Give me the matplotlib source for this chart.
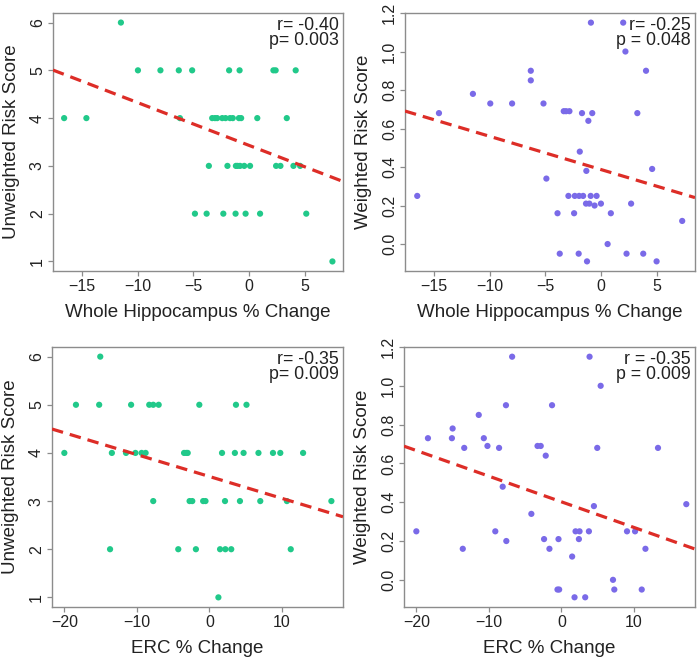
import matplotlib
matplotlib.use("Agg")
import matplotlib.pyplot as plt
import numpy as np

plt.rcParams['font.family'] = ['Liberation Sans', 'DejaVu Sans']

# ---------------- data ----------------
# Panel A: Whole hippocampus % change vs unweighted risk score
hipp_unw_x = [-11.5,
              -9.97, -7.95, -6.3, -5.1, -1.78, -0.84, 2.2, 2.4, 4.2,
              -16.6, -14.6, -6.2, -3.3, -3.05, -2.85, -2.4, -2.1, -1.7, -1.45, -0.9, -0.7, 0.75, 3.4,
              -3.6, -1.93, -1.17, -1.02, -0.8, -0.42, 0.1, 2.44, 2.83, 4.0, 4.6,
              -4.85, -3.8, -2.3, -1.2, -0.3, 1.0, 5.15,
              7.5]
hipp_unw_y = [6] + [5] * 9 + [4] * 14 + [3] * 11 + [2] * 7 + [1]

# Panel B: Whole hippocampus % change vs weighted risk score
hipp_w_x = [-0.9, 2.0, 2.2, -6.3, -6.3, 4.05, -11.5, -9.94, -7.98, -5.16,
            -14.55, -3.34, -3.13, -2.83, -1.7, -0.78, 3.27, -1.13, -1.9, -1.31,
            4.6, -4.9, -16.5, -2.92, -2.35, -1.96, -1.6, -0.92, -0.39,
            -1.34, -1.04, -0.57, 0.0, 2.71, -3.9, -2.41, 0.89, 7.3, 0.6,
            -3.7, -2.0, 2.3, 3.8, -1.25, 5.0]
hipp_w_y = [1.15, 1.15, 1.0, 0.9, 0.85, 0.9, 0.78, 0.73, 0.73, 0.73,
            0.68, 0.69, 0.69, 0.69, 0.68, 0.68, 0.68, 0.64, 0.48, 0.38,
            0.39, 0.34, 0.25, 0.25, 0.25, 0.25, 0.25, 0.25, 0.25,
            0.21, 0.21, 0.2, 0.21, 0.21, 0.16, 0.16, 0.16, 0.12, 0.0,
            -0.05, -0.05, -0.05, -0.05, -0.09, -0.09]

# Panel C: ERC % change vs unweighted risk score
erc_unw_x = [-15.05,
             -18.4, -15.2, -10.8, -8.3, -7.75, -7.0, -1.4, 3.65, 5.1,
             -20.0, -13.45, -11.5, -10.2, -9.35, -8.8, -3.5, -3.2, -3.0, 1.73, 3.5, 4.7, 6.75, 8.75, 9.76, 12.9,
             -7.75, -2.74, -2.37, -0.87, -0.55, 2.14, 4.2, 7.0, 10.67, 16.8,
             -13.7, -4.3, -1.87, 1.46, 2.19, 3.0, 11.2,
             1.23]
erc_unw_y = [6] + [5] * 9 + [4] * 16 + [3] * 10 + [2] * 7 + [1]

# Panel D: ERC % change vs weighted risk score
erc_w_x = [-6.8, 3.87, 5.4, -7.65, -1.3, -11.4, -15.0, -18.4, -15.1, -10.7,
           -13.4, -10.2, -8.6, -3.3, -2.86, -2.17, 4.93, 13.3, -8.1, 4.47,
           -4.15, 17.2, -20.0, -9.12, 1.94, 2.49, 3.78, 9.03, 10.14, -7.6,
           -2.4, -0.41, 2.4, -13.6, -1.66, 11.57, 1.47, 7.1, -0.55, -0.32,
           7.28, 11.06, 1.8, 3.27]
erc_w_y = [1.15, 1.15, 1.0, 0.9, 0.9, 0.85, 0.78, 0.73, 0.73, 0.73,
           0.68, 0.69, 0.68, 0.69, 0.69, 0.64, 0.68, 0.68, 0.48, 0.38,
           0.34, 0.39, 0.25, 0.25, 0.25, 0.25, 0.25, 0.25, 0.25, 0.2,
           0.21, 0.21, 0.21, 0.16, 0.16, 0.16, 0.12, 0.0, -0.05, -0.05,
           -0.05, -0.05, -0.09, -0.09]

# regression fits (slope, intercept)
fit_slopes = [-0.0895, -0.01726, -0.04545, -0.01322]
fit_intercepts = [3.43, 0.387, 3.51, 0.402]

stats_text = ["r= -0.40\np= 0.003", "r= -0.25\np = 0.048",
              "r= -0.35\np= 0.009", "r = -0.35\np = 0.009"]
x_labels = ["Whole Hippocampus % Change", "Whole Hippocampus % Change",
            "ERC % Change", "ERC % Change"]
y_labels = ["Unweighted Risk Score", "Weighted Risk Score",
            "Unweighted Risk Score", "Weighted Risk Score"]
hipp_ticks = [-15, -10, -5, 0, 5]
erc_ticks = [-20, -10, 0, 10]
unw_ticks = [1, 2, 3, 4, 5, 6]
w_ticks = [0.0, 0.2, 0.4, 0.6, 0.8, 1.0, 1.2]

# ---------------- drawing ----------------
GREEN = "#21c98a"
PURPLE = "#7a6ae8"
RED = "#dd2d27"
SPINE = "#8c8c8c"
TEXT = "#222222"

fig = plt.figure(figsize=(7.0, 6.57), dpi=100)
W, H = 700, 657
boxes = [(53, 13, 343, 271), (405, 13, 695, 271),
         (52, 347, 343, 607), (404, 347, 695, 607)]
axes = []
for (x0, y0, x1, y1) in boxes:
    axes.append(fig.add_axes([x0 / W, 1 - y1 / H, (x1 - x0) / W, (y1 - y0) / H]))

datasets = [(hipp_unw_x, hipp_unw_y, GREEN), (hipp_w_x, hipp_w_y, PURPLE),
            (erc_unw_x, erc_unw_y, GREEN), (erc_w_x, erc_w_y, PURPLE)]
xlims = [(-17.6, 8.45), (-17.6, 8.45), (-21.7, 18.4), (-21.7, 18.4)]
ylims = [(0.8, 6.2), (-0.14, 1.2), (0.8, 6.2), (-0.14, 1.2)]
xticks = [hipp_ticks, hipp_ticks, erc_ticks, erc_ticks]
yticks = [unw_ticks, w_ticks, unw_ticks, w_ticks]
yfmt = ["{:.0f}", "{:.1f}", "{:.0f}", "{:.1f}"]

for i, ax in enumerate(axes):
    xs, ys, col = datasets[i]
    ax.scatter(xs, ys, s=20, color=col, edgecolors='none', zorder=3)
    ax.axline((0, fit_intercepts[i]), slope=fit_slopes[i], color=RED,
              lw=2.3, linestyle=(0, (3.6, 2.2)), zorder=4)
    ax.set_xlim(*xlims[i])
    ax.set_ylim(*ylims[i])
    ax.set_xticks(xticks[i])
    ax.set_yticks(yticks[i])
    ax.set_yticklabels([yfmt[i].format(v) for v in yticks[i]])
    for sp in ax.spines.values():
        sp.set_color(SPINE)
        sp.set_linewidth(1.0)
    ax.tick_params(axis='both', direction='out', length=3.8, width=0.9,
                   color=SPINE, labelsize=11.5, labelcolor=TEXT, pad=2)
    ax.tick_params(axis='y', labelrotation=90)
    for lab in ax.get_yticklabels():
        lab.set_verticalalignment('center')
    ax.set_xlabel(x_labels[i], fontsize=13.5, color=TEXT, labelpad=7)
    ax.set_ylabel(y_labels[i], fontsize=13.5, color=TEXT, labelpad=7)
    ax.text(0.985, 0.985, stats_text[i], transform=ax.transAxes, ha='right',
            va='top', fontsize=12.8, color=TEXT, linespacing=0.82, zorder=5)

fig.savefig("out.png", dpi=100)
